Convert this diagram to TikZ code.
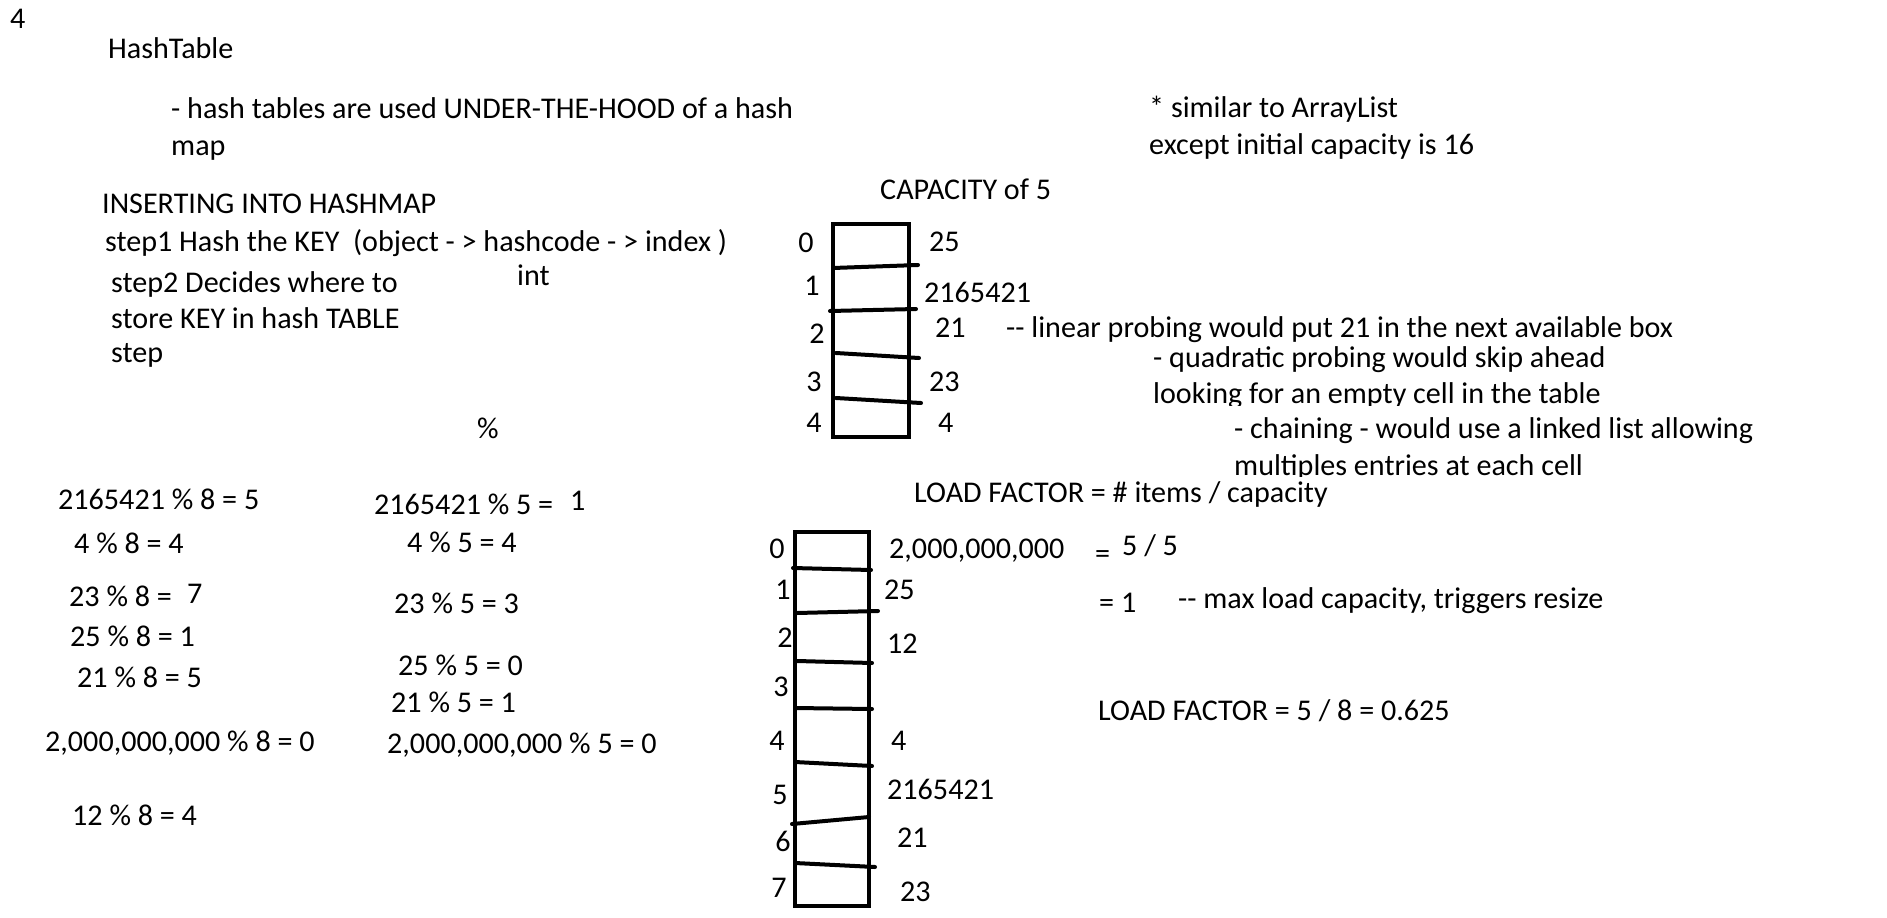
\documentclass[tikz,border=0pt]{standalone}
\usepackage{fontspec}
\setmainfont{Carlito}
\begin{document}
\begin{tikzpicture}[x=1pt,y=-1pt,
  txt/.style={anchor=base west, inner sep=0pt, font=\fontsize{30.1}{36}\selectfont},
  idx/.style={anchor=base, inner sep=0pt, font=\fontsize{30.1}{36}\selectfont},
  tablebox/.style={draw, line width=4pt, inner sep=0pt, outer sep=0pt, anchor=north west},
  div/.style={line width=4pt, line cap=round}]
\useasboundingbox[fill=white] (0,0) rectangle (1887,918);

% header texts
\node[txt] (pg) at (10,28) {4};
\node[txt] (title) at (108,58) {HashTable};
\node[txt] (l1) at (171,118) {- hash tables are used UNDER-THE-HOOD of a hash};
\node[txt] (l2) at (171,155) {map};
\node[txt] (ins) at (102,213) {INSERTING INTO HASHMAP};
\node[txt] (s1) at (105,251) {step1 Hash the KEY\ \ (object - > hashcode - > index )};
\node[txt] (int) at (517,285) {int};
\node[txt] (s2) at (111,292) {step2 Decides where to};
\node[txt] (s2b) at (111,328) {store KEY in hash TABLE};
\node[txt] (s3) at (111,362) {step};
\node[txt] (pct) at (477,438) {\%};
\node[txt] (sim) at (1149,117) {* similar to ArrayList};
\node[txt] (exc) at (1149,154) {except initial capacity is 16};

% capacity 5 table
\node[txt] (cap) at (880,199) {CAPACITY of 5};
\node[tablebox, minimum width=76, minimum height=213] (t5) at (833,224) {};
\draw[div] (833,268) -- (918,265);
\draw[div] (830,311) -- (916,309);
\draw[div] (836,353) -- (919,358);
\draw[div] (836,398) -- (921,403);
\node[idx] (a0) at (806,252) {0};
\node[idx] (a1) at (812,295) {1};
\node[idx] (a2) at (817,343) {2};
\node[idx] (a3) at (814,391) {3};
\node[idx] (a4) at (814,432) {4};
\node[txt] (v0) at (929,251) {25};
\node[txt] (v1) at (924,302) {2165421};
\node[txt] (v2) at (935,337) {21};
\node[txt] (v3) at (929,391) {23};
\node[txt] (v4) at (938,432) {4};
\node[txt] (lin) at (1006,337) {-{}- linear probing would put 21 in the next available box};
\node[txt] (quad) at (1153,367) {- quadratic probing would skip ahead};
\begin{scope}
\clip (0,0) rectangle (1887,405);
\node[txt] (look) at (1153,403) {looking for an empty cell in the table};
\end{scope}
\node[txt] (chain) at (1234,438) {- chaining - would use a linked list allowing};
\begin{scope}
\clip (0,0) rectangle (1887,476);
\node[txt] (mult) at (1234,475) {multiples entries at each cell};
\end{scope}

% left modulo column (% 8)
\node[txt] (m1) at (58,509) {2165421 \% 8 = 5};
\node[txt] (m2) at (74,553) {4 \% 8 = 4};
\node[txt] (m3) at (69,606) {23 \% 8 =};
\node[txt] (m3v) at (187,603) {7};
\node[txt] (m4) at (70,646) {25 \% 8 = 1};
\node[txt] (m5) at (77,687) {21 \% 8 = 5};
\node[txt] (m6) at (45,751) {2,000,000,000 \% 8 = 0};
\node[txt] (m7) at (72,825) {12 \% 8 = 4};

% middle modulo column (% 5)
\node[txt] (n1) at (374,514) {2165421 \% 5 =};
\node[txt] (n1v) at (570,510) {1};
\node[txt] (n2) at (407,552) {4 \% 5 = 4};
\node[txt] (n3) at (394,613) {23 \% 5 = 3};
\node[txt] (n4) at (398,675) {25 \% 5 = 0};
\node[txt] (n5) at (391,712) {21 \% 5 = 1};
\node[txt] (n6) at (387,753) {2,000,000,000 \% 5 = 0};

% load factor
\node[txt] (lf) at (914,502) {LOAD FACTOR = \# items / capacity};
\node[txt] (eq1) at (1095,563) {=};
\node[txt] (f55) at (1122,555) {5 / 5};
\node[txt] (eq2) at (1099,612) {= 1};
\node[txt] (maxl) at (1178,608) {-{}- max load capacity, triggers resize};
\node[txt] (lf2) at (1098,720) {LOAD FACTOR = 5 / 8 = 0.625};

% capacity 8 table
\node[tablebox, minimum width=74, minimum height=374] (t8) at (795,532) {};
\draw[div] (793,568) -- (871,570);
\draw[div] (797,613) -- (878,611);
\draw[div] (797,661) -- (872,663);
\draw[div] (795,708) -- (872,709);
\draw[div] (795,762) -- (872,766);
\draw[div] (792,824) -- (869,817);
\draw[div] (795,863) -- (875,867);
\node[idx] (b0) at (777,558) {0};
\node[idx] (b1) at (783,599) {1};
\node[idx] (b2) at (785,647) {2};
\node[idx] (b3) at (781,696) {3};
\node[idx] (b4) at (777,750) {4};
\node[idx] (b5) at (780,804) {5};
\node[idx] (b6) at (783,851) {6};
\node[idx] (b7) at (779,897) {7};
\node[txt] (w0) at (889,558) {2,000,000,000};
\node[txt] (w1) at (884,599) {25};
\node[txt] (w2) at (887,653) {12};
\node[txt] (w4) at (891,750) {4};
\node[txt] (w5) at (887,799) {2165421};
\node[txt] (w6) at (897,847) {21};
\node[txt] (w7) at (900,901) {23};
\end{tikzpicture}
\end{document}
